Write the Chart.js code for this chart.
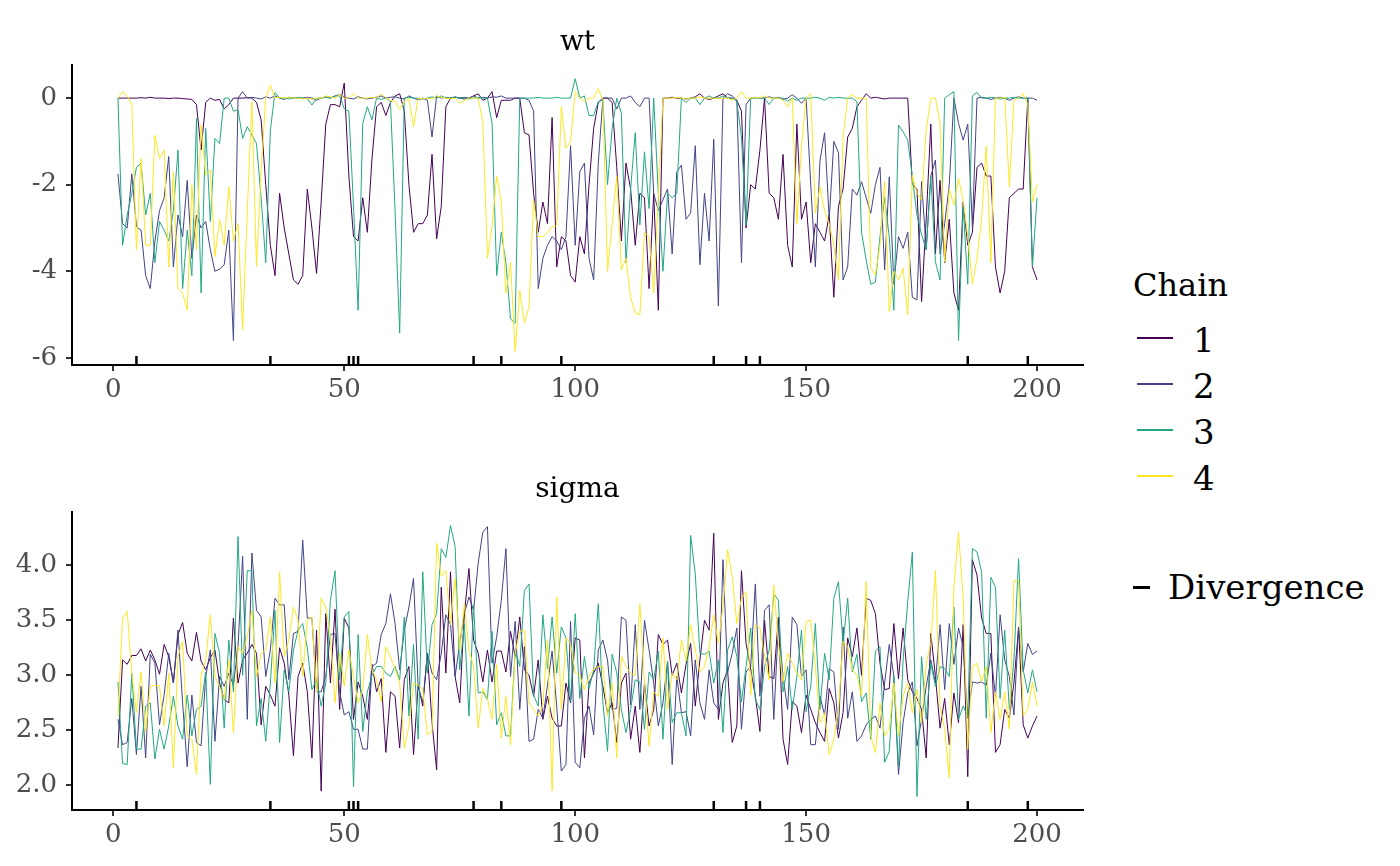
<!DOCTYPE html>
<html>
<head>
<meta charset="utf-8">
<script src="https://cdn.jsdelivr.net/npm/chart.js@4.4.1/dist/chart.umd.min.js"></script>
<style>
  body { margin: 0; background: #fff; width: 1400px; height: 866px; position: relative; overflow: hidden; font-family: 'DejaVu Serif', serif; }
  .panel { position: absolute; left: 0; width: 1100px; height: 420px; }
  .title { position: absolute; left: 72px; width: 1011px; text-align: center; font-size: 28px; line-height: 1; color: #000; }
  .leg { position: absolute; line-height: 1; color: #000; white-space: nowrap; }
  .key { position: absolute; width: 36px; height: 1.5px; }
</style>
</head>
<body>
<div class="panel" style="top:0"><canvas id="wtChart"></canvas></div>
<div class="panel" style="top:446px"><canvas id="sigmaChart"></canvas></div>
<div class="title" style="top:27px">wt</div>
<div class="title" style="top:474px">sigma</div>
<div class="leg" style="left:1133px; top:269px; font-size:32px">Chain</div>
<div id="legendItems"></div>
<div style="position:absolute; left:1133px; top:586px; width:17px; height:3px; background:#000"></div>
<div class="leg" style="left:1168px; top:570px; font-size:34px">Divergence</div>

<script>
const chainNames = ['1', '2', '3', '4'];
const chainColors = ['#440154', '#414487', '#22A884', '#FDE725'];
const divergences = [5, 34, 51, 52, 53, 78, 84, 97, 130, 137, 140, 185, 198];
const xTicks = [0, 50, 100, 150, 200];
const wtTicks = [-6, -4, -2, 0];
const sigmaTicks = [2.0, 2.5, 3.0, 3.5, 4.0];

const wtChain1 = [
  0, 0, 0, 0, 0, 0.01, 0, 0.02, 0, 0,
  0, -0.01, 0, 0, -0.01, -0.02, -0.03, -0.15, -1.2, -0.1,
  0, -0.05, -0.03, -0.25, -0.15, 0, 0, 0, 0.01, 0,
  -0.1, -0.5, -2.0, -3.4, -4.1, -2.2, -3.0, -3.6, -4.2, -4.3,
  -4.1, -2.1, -3.0, -4.05, -2.4, -0.6, -0.15, -0.15, -0.2, 0.35,
  -1.8, -3.2, -3.3, -2.3, -3.1, -1.4, -0.2, -0.1, -0.4, -0.1,
  0.05, 0.1, -0.3, -2.0, -3.1, -2.9, -2.9, -2.7, -1.3, -3.25,
  -2.5, -0.2, 0, 0.02, 0, -0.02, 0, 0.05, 0.1, -0.05,
  0, 0.15, -0.45, -0.05, -0.05, -0.05, 0, 0, -0.8, -0.85,
  -2.2, -3.1, -2.4, -2.9, -0.45, -3.9, -3.2, -3.3, -4.1, -4.25,
  -3.2, -3.6, -2.0, -0.7, -0.1, 0, 0, -0.1, -1.6, -3.3,
  -1.5, -2.1, -3.4, -2.2, -2.3, -4.4, -2.2, -4.9, 0, 0,
  0.02, 0, 0, -0.02, 0, 0.03, 0.1, 0, -0.03, 0,
  0.05, 0.1, 0, 0, -0.05, -0.3, -3.0, -2.0, -2.1, -1.2,
  0, -2.2, -2.3, -2.8, -1.3, -3.4, -3.9, -0.6, -2.8, -2.4,
  -3.8, -2.9, -3.1, -3.3, -2.7, -4.6, -2.5, -2.1, -0.9, -0.7,
  -0.2, -0.05, 0.1, 0, 0.02, 0, -0.02, 0, 0, 0,
  0, 0, -2.0, -2.1, -4.7, -2.8, -0.6, -3.6, -1.9, -3.8,
  -2.8, -4.5, -4.9, -2.4, -3.4, -3.1, -1.6, -1.5, -1.8, -1.8,
  -3.9, -4.5, -4.0, -2.3, -2.2, -2.1, -2.1, 0, -3.9, -4.2
];
const wtChain2 = [
  -1.75, -2.9, -3.0, -1.75, -2.97, -3.05, -4.1, -4.4, -3.3, -2.6,
  -2.3, -1.35, -3.9, -2.7, -3.2, -1.9, -3.7, -2.7, -3.0, -2.85,
  -3.5, -4.0, -3.95, -3.85, -3.05, -5.6, 0, 0.15, 0, 0.02,
  0, -0.02, 0.03, 0, 0.05, 0, -0.03, 0.02, 0, 0,
  0, 0.02, 0, -0.05, 0, 0.03, 0, 0.05, 0.08, 0.02,
  0, -0.02, 0.03, 0, -0.02, 0, 0.02, 0.05, 0, 0.02,
  0.03, 0, -0.02, 0.05, 0, -0.04, 0, -0.05, -0.9, 0.05,
  0, 0.02, 0, 0.03, 0, 0.02, 0, 0.05, 0, 0.02,
  0, 0.03, 0.02, 0.05, 0, 0, 0, 0, 0, -0.05,
  -0.3, -4.4, -3.7, -3.4, -3.2, -3.3, -3.5, -3.2, -1.1, -3.4,
  -1.7, -1.5, -3.7, -4.2, -1.5, 0, 0, 0, -0.25, 0,
  0, 0.05, -0.1, -0.2, 0, 0, -2.2, -2.6, -2.35, -2.1,
  -3.6, -1.7, -1.55, -2.8, -2.65, -1.1, -3.85, -2.2, -3.3, -0.95,
  -4.8, 0, 0.1, 0.05, -0.05, -3.8, -0.15, 0, 0.02, 0,
  0, 0.03, 0, 0.02, -0.03, 0, 0.08, 0, -0.12, 0,
  -2.0, -3.9, -1.45, -0.8, -2.8, -1.0, -1.26, -4.2, -3.9, -2.1,
  -2.24, -1.93, -2.3, -2.66, -2.0, -1.6, -3.97, -1.82, -4.3, -3.2,
  -3.47, -3.1, -4.6, -4.66, -1.93, -3.5, -1.8, -1.43, -3.6, -2.9,
  -2.0, 0, -0.58, -0.97, -0.6, -2.97, 0, 0.02, 0, -0.03,
  0, 0.02, 0, -0.05, 0, 0.03, 0, 0, 0, -0.05
];
const wtChain3 = [
  0, -3.4, -2.7, -2.2, -1.6, -1.5, -2.7, -2.2, -3.8, -2.85,
  -3.05, -3.3, -2.6, -1.2, -4.4, -3.05, -4.1, -0.47, -4.5, -0.7,
  -2.85, -0.93, -1.05, 0, 0, -0.3, -0.27, -0.93, -0.66, -0.85,
  -1.05, -2.3, -3.8, -0.74, 0.13, 0, 0, -0.02, 0, 0.02,
  0, -0.01, -0.16, 0, 0, 0.02, 0, 0.05, 0.05, -0.25,
  -0.3, -2.5, -4.9, -0.58, -0.2, -0.5, 0, -0.03, 0, -0.08,
  -2.6, -5.43, 0, 0.02, 0, 0, -0.02, 0, 0.03, 0,
  0.05, 0, 0, 0.02, 0, 0, -0.02, 0, 0.02, 0,
  0, -0.58, -4.1, -3.1, -3.8, -5.1, -5.2, 0, 0, 0,
  0, 0.02, 0, 0, 0, 0.02, 0, 0, 0, 0.45,
  0, 0.05, -0.4, -0.4, -0.08, -0.05, -2.0, -0.7, 0, -0.35,
  -3.8, -2.1, -0.8, -2.93, -1.24, -2.55, 0, -2.2, -4.0, -2.2,
  -2.3, -2.2, 0, -0.1, 0, 0, -0.15, 0, 0.05, 0,
  0, 0.05, 0, 0, -0.07, -0.9, -2.93, 0, 0, 0,
  0, -0.15, 0, 0, 0, -0.07, 0, -0.05, 0, 0,
  0, 0.02, 0, -0.05, 0.02, 0, 0.02, 0, 0, 0,
  -0.08, -3.1, -3.74, -4.3, -4.25, -3.2, -2.3, -3.2, -4.9, -0.62,
  -0.78, -0.97, -1.82, -2.7, -3.15, -3.5, -1.8, -3.78, -4.2, 0,
  0.08, 0.15, -5.6, -2.5, -4.3, 0.05, 0.13, 0, 0, 0.02,
  0, -0.02, 0, 0, 0.02, 0, 0, 0, -3.9, -2.3
];
const wtChain4 = [
  0, 0.15, 0.05, -0.15, -3.5, -1.4, -3.4, -3.4, -0.86, -1.4,
  -1.2, -3.9, -1.7, -4.4, -4.5, -4.9, -2.0, -3.5, -0.62, -1.78,
  -1.66, -3.66, -2.8, -3.4, -2.05, -3.3, -2.9, -5.35, -2.6, -0.09,
  -3.9, -1.66, 0, 0.3, 0, 0.02, 0, 0.02, 0, 0,
  -0.02, 0, -0.03, 0, 0, 0.05, 0.03, 0, 0.08, 0,
  0, 0.1, 0, 0, 0, 0.02, 0, 0.1, 0, -0.05,
  -0.08, -0.25, -0.08, 0, -0.66, 0, -0.02, 0, -0.02, 0.05,
  0.02, 0, -0.02, 0, -0.12, -0.05, 0, 0, 0, -0.55,
  -3.7, -2.96, -1.8, -2.4, -4.5, -3.8, -5.85, -4.44, -5.2, -4.83,
  -2.35, -3.2, -3.2, -3.1, -2.97, -2.95, -0.2, -1.16, -1.0, 0.15,
  0, -0.08, 0, 0, 0.22, -0.05, -4.0, -2.9, -1.8, -3.97,
  -3.7, -4.6, -4.97, -5.0, -3.1, -3.2, -4.5, -2.3, 0, 0,
  0, 0.02, 0, -0.02, 0, 0, 0.03, 0, 0, 0,
  -0.02, 0, 0, -0.05, 0, 0.15, 0, 0, 0.02, 0,
  0.05, 0, 0, 0, -0.05, -0.2, 0, -2.9, -1.1, 0,
  0.1, -2.66, -2.05, -2.6, -2.9, -3.4, -4.2, -0.9, 0, 0.08,
  0, 0, 0, -3.93, -4.08, -3.4, -1.93, -4.93, -4.0, -4.2,
  -3.93, -5.0, -1.78, -2.2, -2.35, -0.74, 0, 0, -0.6, -3.78,
  -2.1, -2.47, -1.86, -2.35, -3.2, -4.3, -3.7, -2.8, -1.1, -3.8,
  0, 0, 0.02, -2.05, -0.05, 0, 0.1, -0.15, -2.4, -2.0
];

const sigmaChain1 = [
  2.34, 3.14, 3.10, 3.18, 3.18, 3.24, 3.13, 3.23, 3.14, 3.01,
  3.28, 3.17, 2.93, 3.37, 3.48, 3.20, 3.13, 3.39, 3.13, 3.05,
  3.16, 3.23, 2.93, 2.78, 2.75, 3.52, 2.93, 3.14, 3.20, 3.28,
  3.20, 2.55, 2.90, 2.82, 2.72, 3.25, 3.11, 2.82, 2.27, 2.99,
  3.11, 2.85, 2.25, 3.41, 1.95, 3.56, 2.93, 3.60, 2.69, 3.52,
  3.43, 2.60, 2.94, 2.81, 2.60, 3.10, 2.85, 2.97, 2.30, 2.85,
  2.81, 2.34, 2.96, 3.08, 2.28, 2.91, 2.72, 3.20, 2.57, 2.14,
  3.80, 3.02, 3.94, 2.99, 2.75, 3.56, 3.97, 3.32, 3.20, 2.94,
  3.23, 2.94, 3.22, 3.22, 3.03, 3.40, 3.17, 3.53, 3.05, 3.00,
  2.81, 3.14, 2.60, 2.81, 2.61, 2.54, 2.54, 2.93, 2.75, 3.34,
  3.32, 2.25, 2.93, 3.02, 3.11, 2.90, 2.66, 2.75, 2.39, 2.93,
  3.02, 2.42, 2.72, 2.30, 2.93, 2.54, 2.69, 3.37, 3.28, 3.32,
  3.00, 3.11, 2.84, 3.10, 3.29, 2.72, 3.14, 3.50, 3.41, 4.29,
  2.60, 2.93, 3.05, 2.39, 2.54, 3.95, 3.29, 3.06, 2.81, 2.49,
  3.50, 2.99, 2.97, 3.53, 2.42, 2.19, 2.76, 2.72, 2.48, 2.82,
  2.69, 2.57, 2.48, 2.40, 2.88, 2.75, 2.43, 2.66, 3.34, 3.17,
  3.43, 3.00, 3.70, 3.68, 3.56, 3.11, 2.87, 2.88, 3.47, 2.97,
  3.43, 2.96, 2.85, 2.79, 2.69, 2.25, 3.38, 2.99, 2.52, 2.79,
  2.37, 2.84, 2.57, 3.46, 2.08, 4.05, 3.91, 3.52, 3.38, 3.38,
  2.30, 2.37, 2.69, 2.61, 2.93, 3.43, 2.55, 2.43, 2.54, 2.63
];
const sigmaChain2 = [
  2.60, 2.37, 2.39, 2.79, 2.28, 2.90, 2.25, 3.19, 3.11, 2.55,
  2.82, 3.20, 2.93, 3.41, 2.75, 2.17, 2.82, 2.39, 2.36, 2.99,
  3.23, 2.40, 2.99, 2.90, 3.02, 2.91, 3.26, 4.08, 2.60, 4.11,
  3.59, 3.53, 2.99, 3.23, 3.70, 3.64, 3.64, 2.96, 3.38, 3.40,
  4.23, 3.52, 3.52, 2.85, 2.85, 2.99, 3.37, 3.38, 2.85, 2.64,
  2.67, 2.51, 2.51, 2.33, 2.33, 3.08, 3.11, 3.37, 3.47, 3.74,
  3.47, 3.05, 3.41, 3.62, 3.88, 2.90, 2.75, 3.20, 3.02, 2.96,
  3.20, 3.55, 3.46, 2.99, 3.29, 3.56, 3.71, 3.59, 4.02, 4.30,
  4.35, 3.11, 3.35, 3.68, 4.15, 2.99, 3.49, 2.69, 3.26, 2.40,
  2.42, 2.69, 2.61, 2.91, 3.22, 2.72, 2.13, 2.19, 3.49, 2.21,
  2.16, 2.61, 2.72, 2.46, 3.23, 3.32, 3.14, 2.69, 2.70, 3.53,
  3.50, 2.73, 3.46, 2.69, 3.50, 3.23, 2.93, 2.54, 2.75, 3.13,
  2.19, 2.99, 2.66, 2.67, 2.45, 3.14, 2.75, 2.60, 3.05, 2.75,
  2.69, 4.05, 3.03, 3.20, 3.43, 2.51, 3.03, 3.08, 3.83, 2.81,
  3.59, 3.64, 2.60, 3.47, 2.99, 2.69, 3.53, 3.46, 2.99, 3.05,
  2.37, 2.37, 2.81, 2.64, 3.06, 3.03, 2.51, 3.44, 2.61, 2.85,
  2.40, 2.45, 2.55, 2.60, 2.63, 2.52, 2.93, 3.28, 2.99, 2.10,
  2.57, 2.84, 2.94, 2.36, 2.60, 2.90, 3.14, 2.93, 3.46, 2.87,
  3.47, 3.10, 3.43, 3.26, 2.61, 2.94, 2.93, 2.94, 2.91, 3.20,
  2.81, 3.55, 3.14, 2.99, 2.64, 3.44, 3.03, 3.29, 3.19, 3.22
];
const sigmaChain3 = [
  2.94, 2.20, 2.19, 3.02, 2.33, 2.33, 2.72, 2.75, 2.24, 2.51,
  2.33, 2.54, 2.81, 2.54, 2.42, 2.82, 2.45, 2.69, 2.72, 3.03,
  2.01, 3.38, 3.20, 2.52, 3.32, 2.85, 4.26, 3.00, 3.95, 3.95,
  2.54, 2.79, 2.40, 2.93, 3.59, 2.39, 3.05, 2.85, 3.23, 3.41,
  3.47, 3.25, 2.87, 2.96, 2.72, 2.93, 3.68, 3.95, 2.96, 3.53,
  3.58, 1.99, 3.37, 2.49, 2.85, 3.00, 3.08, 3.08, 3.02, 2.99,
  3.08, 2.96, 3.53, 2.63, 3.28, 2.42, 3.94, 3.02, 3.46, 3.56,
  4.15, 4.07, 4.36, 4.17, 3.05, 3.47, 2.63, 3.64, 2.84, 2.85,
  2.78, 3.40, 2.55, 2.66, 2.45, 2.45, 3.23, 3.08, 3.77, 3.83,
  2.82, 2.72, 3.55, 3.06, 3.53, 3.02, 3.44, 3.34, 2.76, 3.56,
  2.79, 3.17, 2.88, 3.05, 3.65, 2.75, 2.31, 3.19, 3.02, 2.69,
  2.48, 2.69, 2.96, 2.94, 2.51, 3.03, 2.96, 3.22, 2.42, 3.13,
  2.57, 2.66, 2.66, 2.45, 4.27, 3.92, 3.20, 3.19, 3.22, 2.93,
  3.14, 2.48, 3.23, 3.35, 3.17, 2.76, 3.08, 3.43, 2.78, 2.69,
  3.08, 3.23, 3.74, 3.68, 2.85, 3.08, 2.69, 2.99, 3.41, 2.67,
  2.90, 3.47, 2.69, 3.20, 2.96, 3.70, 3.85, 3.29, 3.70, 3.03,
  3.19, 2.76, 2.84, 2.42, 3.22, 3.26, 2.21, 2.31, 2.99, 2.17,
  3.14, 3.67, 4.12, 1.90, 3.17, 2.60, 3.11, 2.90, 3.08, 3.06,
  2.99, 3.62, 2.60, 2.72, 2.63, 4.15, 4.12, 3.94, 2.61, 3.89,
  3.80, 2.79, 3.41, 2.69, 3.14, 4.06, 3.05, 2.84, 3.05, 2.85
];
const sigmaChain4 = [
  2.63, 3.52, 3.58, 3.02, 2.66, 3.03, 2.49, 2.90, 2.91, 2.90,
  2.54, 3.02, 2.16, 3.17, 3.31, 2.45, 2.42, 2.10, 3.00, 3.14,
  3.55, 2.99, 2.90, 2.78, 3.14, 2.48, 3.26, 3.20, 3.35, 3.59,
  2.99, 3.20, 3.23, 3.53, 2.93, 3.94, 3.17, 3.32, 3.62, 3.50,
  2.99, 3.50, 3.53, 2.85, 3.70, 3.62, 3.35, 2.75, 3.20, 2.90,
  3.23, 2.99, 2.75, 2.87, 3.37, 3.05, 2.96, 2.76, 3.26, 3.17,
  3.06, 2.93, 2.34, 2.54, 2.93, 2.91, 2.87, 2.46, 2.49, 4.20,
  3.90, 3.95, 3.46, 3.88, 3.23, 3.65, 3.23, 3.08, 2.52, 2.88,
  2.79, 2.60, 3.10, 2.43, 2.81, 2.37, 3.20, 3.40, 3.41, 2.75,
  2.69, 2.63, 2.73, 3.32, 1.95, 3.71, 2.69, 3.34, 3.29, 3.02,
  3.00, 2.87, 2.99, 3.06, 3.08, 3.08, 2.63, 2.93, 2.25, 3.17,
  3.08, 3.02, 3.00, 3.65, 2.93, 2.36, 2.85, 2.81, 3.34, 2.69,
  3.02, 2.96, 3.32, 3.13, 3.46, 3.23, 3.03, 3.08, 3.26, 3.55,
  3.29, 3.62, 4.14, 3.89, 3.47, 3.70, 3.76, 2.82, 3.46, 3.43,
  3.17, 2.96, 3.82, 3.29, 2.94, 3.20, 3.11, 3.02, 2.96, 3.49,
  3.50, 3.08, 2.57, 2.66, 2.28, 2.42, 2.69, 3.31, 3.26, 3.05,
  3.00, 2.81, 3.85, 2.45, 2.30, 2.75, 2.45, 2.51, 2.93, 2.45,
  2.81, 2.93, 2.66, 2.87, 2.57, 3.11, 3.29, 3.95, 2.72, 2.51,
  2.07, 3.80, 4.30, 3.70, 2.33, 3.08, 3.11, 2.94, 3.08, 2.48,
  2.85, 2.60, 2.85, 2.51, 3.86, 3.86, 2.63, 2.69, 2.94, 2.72
];

const iterations = wtChain1.map((_, i) => i + 1);
const FONT = 'DejaVu Serif';

// rug of divergent iterations along the bottom of each panel
const divergenceRug = {
  id: 'divergenceRug',
  afterDatasetsDraw(chart) {
    const { ctx, chartArea, scales } = chart;
    ctx.save();
    ctx.strokeStyle = '#000';
    ctx.lineWidth = 2.5;
    divergences.forEach(it => {
      const x = scales.x.getPixelForValue(it);
      ctx.beginPath();
      ctx.moveTo(x, chartArea.bottom);
      ctx.lineTo(x, chartArea.bottom - 9);
      ctx.stroke();
    });
    ctx.restore();
  }
};

function makePanel(id, chains, yMin, yMax, yTicks, fmt, padTop, xAxisHeight) {
  return new Chart(document.getElementById(id), {
    type: 'line',
    data: {
      datasets: chains.map((vals, i) => ({
        label: chainNames[i],
        data: vals.map((v, j) => ({ x: iterations[j], y: v })),
        borderColor: chainColors[i],
        borderWidth: 1,
        pointRadius: 0,
        tension: 0,
        order: chains.length - 1 - i
      }))
    },
    options: {
      responsive: false,
      maintainAspectRatio: false,
      animation: false,
      devicePixelRatio: 1,
      layout: { padding: { top: padTop, right: 17, left: 0, bottom: 0 } },
      plugins: { legend: { display: false }, tooltip: { enabled: false } },
      scales: {
        x: {
          type: 'linear',
          min: -8.95,
          max: 209.95,
          afterBuildTicks: s => { s.ticks = xTicks.map(v => ({ value: v })); },
          afterFit: s => { s.height = xAxisHeight; },
          grid: { drawOnChartArea: false, tickLength: 6, color: '#333', lineWidth: 2 },
          border: { color: '#000', width: 2 },
          ticks: { font: { family: FONT, size: 26 }, color: '#4D4D4D', padding: 4, maxRotation: 0, autoSkip: false }
        },
        y: {
          min: yMin,
          max: yMax,
          afterBuildTicks: s => { s.ticks = yTicks.map(v => ({ value: v })); },
          afterFit: s => { s.width = 72; },
          grid: { drawOnChartArea: false, tickLength: 6, color: '#333', lineWidth: 2 },
          border: { color: '#000', width: 2 },
          ticks: { font: { family: FONT, size: 26 }, color: '#4D4D4D', padding: 9, callback: fmt }
        }
      }
    },
    plugins: [divergenceRug]
  });
}

document.getElementById('wtChart').width = 1100;
document.getElementById('wtChart').height = 420;
document.getElementById('sigmaChart').width = 1100;
document.getElementById('sigmaChart').height = 420;

makePanel('wtChart', [wtChain1, wtChain2, wtChain3, wtChain4], -6.165, 0.765, wtTicks, v => String(v), 65, 55);
makePanel('sigmaChart', [sigmaChain1, sigmaChain2, sigmaChain3, sigmaChain4], 1.777, 4.483, sigmaTicks, v => v.toFixed(1), 66, 56);

// legend: chain keys
const legend = document.getElementById('legendItems');
chainNames.forEach((name, i) => {
  const y = 338 + i * 46;
  const key = document.createElement('div');
  key.className = 'key';
  key.style.left = '1137px';
  key.style.top = (y - 1) + 'px';
  key.style.background = chainColors[i];
  legend.appendChild(key);
  const lab = document.createElement('div');
  lab.className = 'leg';
  lab.style.left = '1193px';
  lab.style.top = (y + 14 - 29) + 'px';
  lab.style.fontSize = '34px';
  lab.textContent = name;
  legend.appendChild(lab);
});
</script>
</body>
</html>
